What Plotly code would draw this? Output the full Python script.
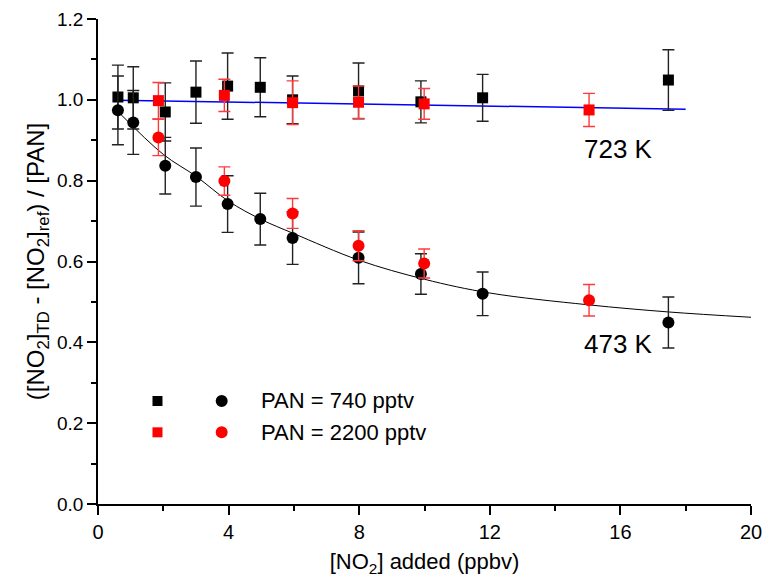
import plotly.graph_objects as go

# ---- data ----
# PAN = 740 pptv, 723 K (black squares)
x_740_hot = [0.61, 1.08, 2.06, 3.00, 3.97, 4.97, 5.96, 7.98, 9.89, 11.78, 17.47]
y_740_hot = [1.007, 1.005, 0.970, 1.019, 1.034, 1.031, 1.000, 1.022, 0.995, 1.005, 1.049]
e_740_hot = [0.079, 0.077, 0.072, 0.077, 0.082, 0.073, 0.059, 0.069, 0.052, 0.058, 0.075]

# PAN = 740 pptv, 473 K (black circles)
x_740_cool = [0.61, 1.08, 2.06, 3.00, 3.97, 4.97, 5.96, 7.98, 9.89, 11.78, 17.47]
y_740_cool = [0.974, 0.944, 0.837, 0.809, 0.742, 0.705, 0.658, 0.609, 0.569, 0.520, 0.449]
e_740_cool = [0.085, 0.079, 0.070, 0.072, 0.070, 0.064, 0.065, 0.064, 0.050, 0.054, 0.063]

# PAN = 2200 pptv, 723 K (red squares)
x_2200_hot = [1.85, 3.87, 5.96, 7.98, 9.99, 15.04]
y_2200_hot = [0.998, 1.011, 0.993, 0.994, 0.990, 0.975]
e_2200_hot = [0.045, 0.040, 0.054, 0.040, 0.038, 0.041]

# PAN = 2200 pptv, 473 K (red circles)
x_2200_cool = [1.85, 3.87, 5.96, 7.98, 9.99, 15.04]
y_2200_cool = [0.907, 0.799, 0.719, 0.639, 0.595, 0.504]
e_2200_cool = [0.045, 0.035, 0.037, 0.037, 0.036, 0.039]

# fitted curves
fit_hot_x = [0.6, 10.5, 18.0]
fit_hot_y = [0.999, 0.987, 0.977]
fit_cool_x = [0.6, 2.0, 3.0, 4.0, 5.0, 6.0, 8.0, 10.0, 12.0, 15.0, 17.5, 20.0]
fit_cool_y = [0.972, 0.865, 0.811, 0.749, 0.704, 0.669, 0.603, 0.556, 0.522, 0.493, 0.475, 0.462]

legend_labels = ["PAN = 740 pptv", "PAN = 2200 pptv"]
temp_labels = ["723 K", "473 K"]

FONT = "Arial, Liberation Sans, sans-serif"
RED = "#ff0000"

fig = go.Figure()

fig.add_trace(go.Scatter(x=fit_hot_x, y=fit_hot_y, mode="lines",
                         line=dict(color="#0000ff", width=1.5), showlegend=False, hoverinfo="skip"))
fig.add_trace(go.Scatter(x=fit_cool_x, y=fit_cool_y, mode="lines",
                         line=dict(color="black", width=1, shape="spline"), showlegend=False, hoverinfo="skip"))

def pts(x, y, e, color, ecolor, symbol, size):
    return go.Scatter(x=x, y=y, mode="markers",
                      marker=dict(color=color, symbol=symbol, size=size, line=dict(width=0)),
                      error_y=dict(type="data", array=e, visible=True, color=ecolor,
                                   thickness=1.4, width=6),
                      showlegend=False)

fig.add_trace(pts(x_740_hot, y_740_hot, e_740_hot, "black", "#222222", "square", 11))
fig.add_trace(pts(x_740_cool, y_740_cool, e_740_cool, "black", "#222222", "circle", 12))
fig.add_trace(pts(x_2200_hot, y_2200_hot, e_2200_hot, RED, "#ff3a3a", "square", 11))
fig.add_trace(pts(x_2200_cool, y_2200_cool, e_2200_cool, RED, "#ff3a3a", "circle", 12))

# custom legend (two symbols per row)
shapes = []
rows = [(0.2124, "black"), (0.1478, RED)]
for yy, col in rows:
    shapes.append(dict(type="rect", xref="paper", yref="paper", xsizemode="pixel", ysizemode="pixel",
                       xanchor=0.0911, yanchor=yy, x0=-5, x1=5, y0=-5, y1=5,
                       fillcolor=col, line=dict(width=0)))
    shapes.append(dict(type="circle", xref="paper", yref="paper", xsizemode="pixel", ysizemode="pixel",
                       xanchor=0.1894, yanchor=yy, x0=-6, x1=6, y0=-6, y1=6,
                       fillcolor=col, line=dict(width=0)))

annotations = []
for (yy, _), lab in zip(rows, legend_labels):
    annotations.append(dict(x=0.2466, y=yy, xref="paper", yref="paper", text=lab, showarrow=False,
                            xanchor="left", yanchor="middle", font=dict(size=22, color="black", family=FONT)))
annotations.append(dict(x=15.95, y=0.8775, text=temp_labels[0], showarrow=False,
                        xanchor="center", yanchor="middle", font=dict(size=26, color="black", family=FONT)))
annotations.append(dict(x=15.95, y=0.395, text=temp_labels[1], showarrow=False,
                        xanchor="center", yanchor="middle", font=dict(size=26, color="black", family=FONT)))

fig.update_layout(
    width=763, height=579,
    margin=dict(l=98, r=12, t=19, b=75),
    paper_bgcolor="white", plot_bgcolor="white",
    font=dict(family=FONT, color="black"),
    shapes=shapes, annotations=annotations,
    showlegend=False,
)
fig.update_xaxes(range=[0, 20], dtick=4, tick0=0, showgrid=False, zeroline=False, automargin=False,
                 showline=True, linecolor="black", linewidth=1.5,
                 ticks="outside", ticklen=9, tickwidth=1.5, tickcolor="black",
                 minor=dict(dtick=2, ticks="outside", ticklen=5, tickwidth=1.5, tickcolor="black"),
                 tickfont=dict(size=20), title=dict(text="[NO<sub>2</sub>] added (ppbv)", font=dict(size=22), standoff=12))
fig.update_yaxes(range=[0, 1.2], dtick=0.2, tick0=0, tickformat=".1f", showgrid=False, zeroline=False, automargin=False,
                 showline=True, linecolor="black", linewidth=1.5,
                 ticks="outside", ticklen=9, tickwidth=1.5, tickcolor="black",
                 minor=dict(dtick=0.1, ticks="outside", ticklen=5, tickwidth=1.5, tickcolor="black"),
                 tickfont=dict(size=19),
                 title=dict(text="([NO<sub>2</sub>]<sub>TD</sub> - [NO<sub>2</sub>]<sub>ref</sub>) / [PAN]",
                            font=dict(size=24), standoff=6))

fig.write_html("out.html")
